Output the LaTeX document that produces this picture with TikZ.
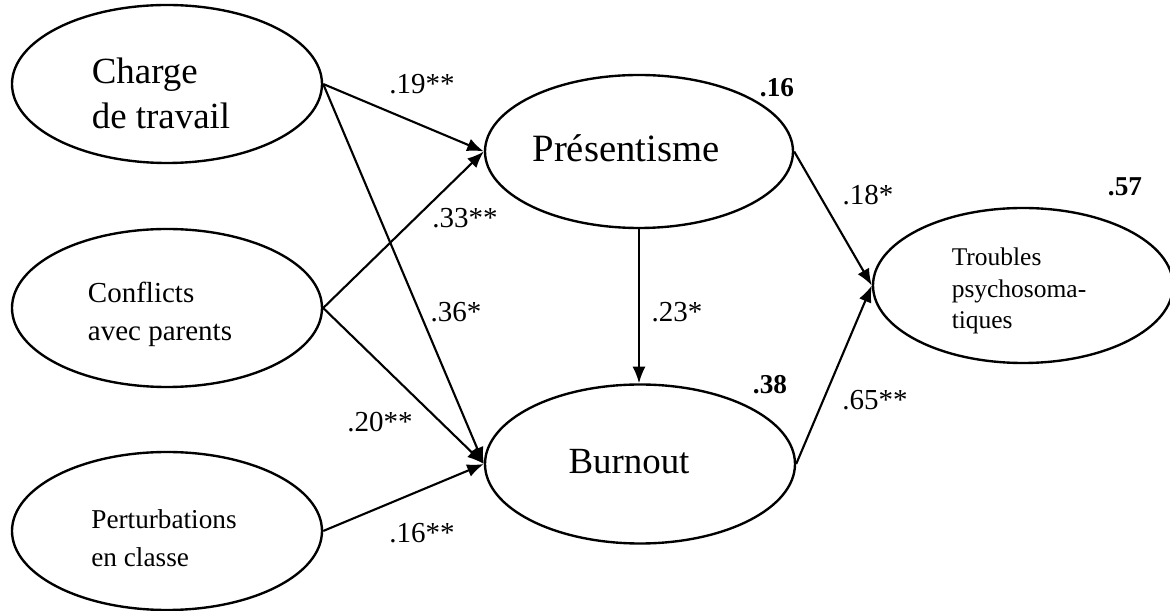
\documentclass[tikz,border=0pt]{standalone}
\usepackage{fontspec}
\setmainfont{Liberation Serif}
\usetikzlibrary{shapes}
\usetikzlibrary{arrows.meta}

\begin{document}
\begin{tikzpicture}
\tikzset{latent/.style = {shape=ellipse,draw,line width=1.35pt,inner sep=0pt,minimum width=6.2cm,minimum height=3.16cm}}
\tikzset{vartext/.style = {inner sep=0pt,align=left}}
\tikzset{path/.style = {-{Latex[length=9.5pt,width=7.5pt]},line width=1.2pt}}
\tikzset{coef/.style = {inner sep=0pt,font=\fontsize{16.5}{18}\selectfont}}
\tikzset{rsq/.style = {inner sep=0pt,font=\fontsize{15.5}{18}\selectfont\bfseries}}
\useasboundingbox (0,0) rectangle (23.4,-12.22);

\node[latent] (charge) at (3.34,-1.68) {};
\node[latent] (conf) at (3.34,-6.16) {};
\node[latent] (pert) at (3.34,-10.62) {};
\node[latent,minimum width=6.16cm,minimum height=3.06cm] (pres) at (12.78,-3.03) {};
\node[latent,minimum height=3.18cm] (burn) at (12.80,-9.28) {};
\node[latent,minimum width=6cm,minimum height=3.1cm] (psy) at (20.46,-5.71) {};

% texts inside the ellipses
\node[vartext,font=\fontsize{21}{25.6}\selectfont] (chargetxt) at ([xshift=-0.12cm,yshift=-0.18cm]charge.center) {Charge\\de travail};
\node[vartext,font=\fontsize{16.5}{21.5}\selectfont] (conftxt) at ([xshift=-0.14cm,yshift=-0.13cm]conf.center) {Conflicts\\avec parents};
\node[vartext,font=\fontsize{15.5}{21.5}\selectfont] (perttxt) at ([xshift=-0.06cm,yshift=-0.15cm]pert.center) {Perturbations\\en classe};
\node[vartext,font=\fontsize{22}{26}\selectfont] (prestxt) at ([xshift=-0.26cm,yshift=0.06cm]pres.center) {Présentisme};
\node[vartext,font=\fontsize{21}{25}\selectfont] (burntxt) at ([xshift=-0.22cm,yshift=0.04cm]burn.center) {Burnout};
\node[vartext,font=\fontsize{14.5}{18}\selectfont] (psytxt) at ([xshift=-0.08cm,yshift=-0.11cm]psy.center) {Troubles\\psychosoma-\\tiques};

\draw[path] (charge.east) to (pres.west);
\draw[path] (charge.east) to (burn.west);
\draw[path] (conf.east) to (pres.west);
\draw[path] (conf.east) to (burn.west);
\draw[path] (pert.east) to (burn.west);
\draw[path] (pres.south) to (pres.south |- burn.north);
\draw[path] (pres.east) to (psy.west);
\draw[path] (burn.east) to (psy.west);

\node[coef] (c19) at (8.44,-1.68) {.19**};
\node[coef] (c33) at (9.30,-4.36) {.33**};
\node[coef] (c36) at (9.12,-6.24) {.36*};
\node[coef] (c23) at (13.54,-6.24) {.23*};
\node[coef] (c20) at (7.60,-8.44) {.20**};
\node[coef] (c16) at (8.44,-10.66) {.16**};
\node[coef] (c18) at (17.36,-3.90) {.18*};
\node[coef] (c65) at (17.50,-8.00) {.65**};
\node[rsq] (r16) at (15.54,-1.76) {.16};
\node[rsq] (r38) at (15.40,-7.70) {.38};
\node[rsq] (r57) at (22.50,-3.74) {.57};
\end{tikzpicture}
\end{document}
